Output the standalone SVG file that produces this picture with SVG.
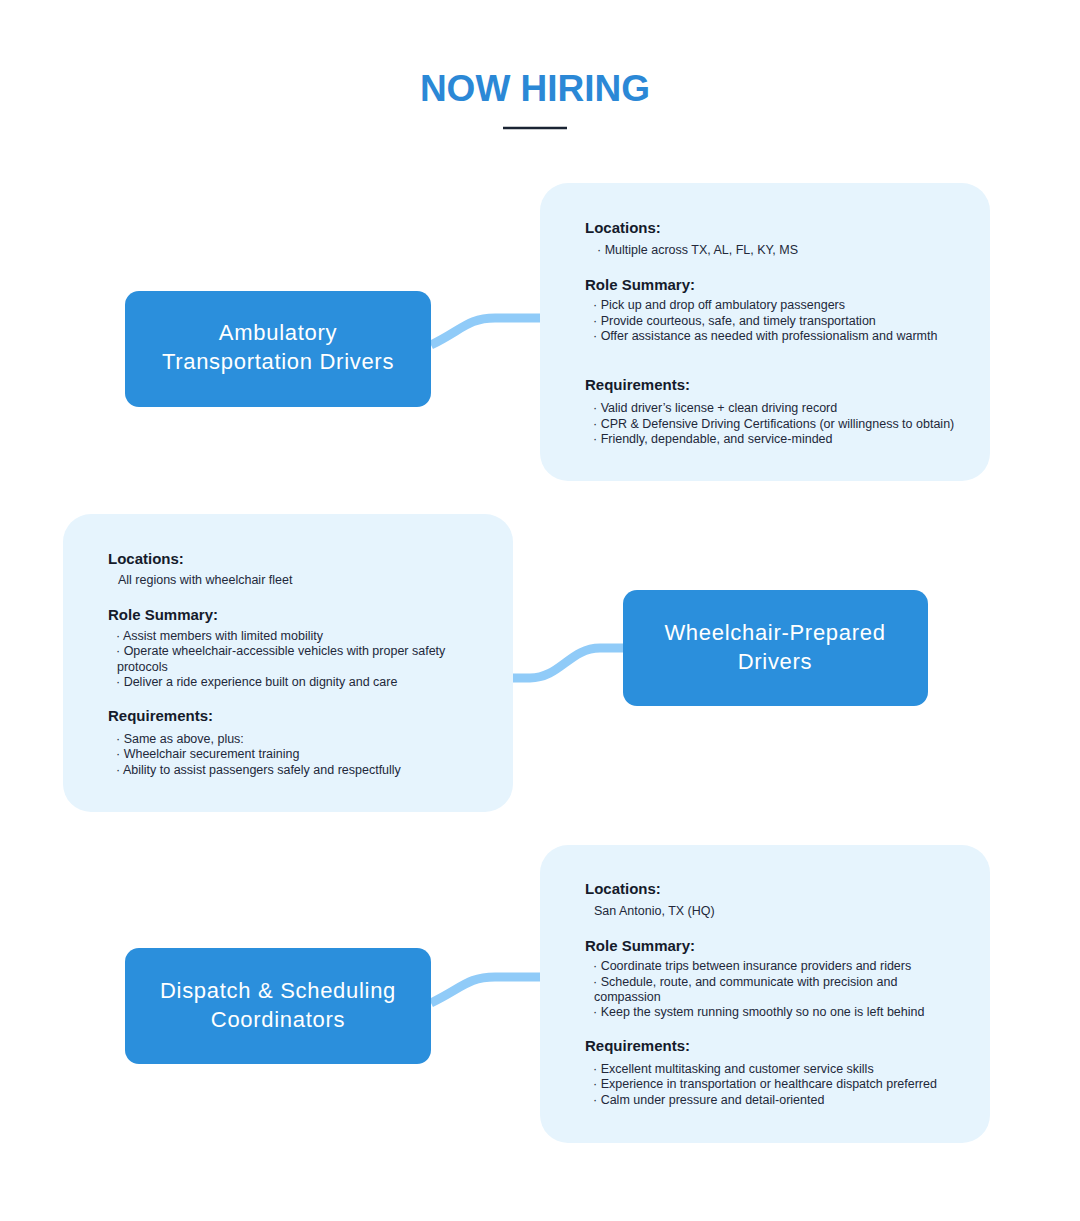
<svg xmlns="http://www.w3.org/2000/svg" width="1080" height="1221" viewBox="0 0 1080 1221">
<style>
.title{font-family:"Liberation Sans",Arial,sans-serif;font-size:37px;font-weight:700;fill:#2b88d6;text-anchor:middle}
.node rect{fill:#2b8fdc}
.node text{font-family:"Liberation Sans",Arial,sans-serif;font-size:22px;letter-spacing:0.7px;fill:#ffffff;text-anchor:middle}
.card rect{fill:#e6f4fd}
.h{font-family:"Liberation Sans",Arial,sans-serif;font-size:15px;font-weight:700;fill:#151b2b}
.b{font-family:"Liberation Sans",Arial,sans-serif;font-size:12.5px;fill:#22283a}
.conn{fill:none;stroke:#90cbf8;stroke-width:9}
</style>
<rect width="1080" height="1221" fill="#ffffff"/>
<text class="title" x="535" y="101">NOW HIRING</text>
<line x1="503" y1="128" x2="567" y2="128" stroke="#1a2433" stroke-width="2.5"/>

<g id="connectors">
<path class="conn" d="M431,345 C462,330 468,318 495,318 L541,318"/>
<path class="conn" d="M512,678 L530,678 C560,678 570,648 600,648 L624,648"/>
<path class="conn" d="M431,1003 C462,988 468,977 495,977 L541,977"/>
</g>

<g id="card-ambulatory" class="card">
<rect x="540" y="183" width="450" height="298" rx="28"/>
<text class="h" x="585" y="233">Locations:</text>
<text class="b" x="597" y="254">· Multiple across TX, AL, FL, KY, MS</text>
<text class="h" x="585" y="290">Role Summary:</text>
<text class="b" x="593" y="309">· Pick up and drop off ambulatory passengers</text>
<text class="b" x="593" y="325">· Provide courteous, safe, and timely transportation</text>
<text class="b" x="593" y="340">· Offer assistance as needed with professionalism and warmth</text>
<text class="h" x="585" y="390">Requirements:</text>
<text class="b" x="593" y="412">· Valid driver’s license + clean driving record</text>
<text class="b" x="593" y="428">· CPR &amp; Defensive Driving Certifications (or willingness to obtain)</text>
<text class="b" x="593" y="443">· Friendly, dependable, and service-minded</text>
</g>

<g id="node-ambulatory" class="node">
<rect x="125" y="291" width="306" height="116" rx="14"/>
<text x="278" y="340">Ambulatory</text>
<text x="278" y="369">Transportation Drivers</text>
</g>

<g id="card-wheelchair" class="card">
<rect x="63" y="514" width="450" height="298" rx="28"/>
<text class="h" x="108" y="564">Locations:</text>
<text class="b" x="118" y="584">All regions with wheelchair fleet</text>
<text class="h" x="108" y="620">Role Summary:</text>
<text class="b" x="116" y="640">· Assist members with limited mobility</text>
<text class="b" x="116" y="655">· Operate wheelchair-accessible vehicles with proper safety</text>
<text class="b" x="117" y="671">protocols</text>
<text class="b" x="116" y="686">· Deliver a ride experience built on dignity and care</text>
<text class="h" x="108" y="721">Requirements:</text>
<text class="b" x="116" y="743">· Same as above, plus:</text>
<text class="b" x="116" y="758">· Wheelchair securement training</text>
<text class="b" x="116" y="774">· Ability to assist passengers safely and respectfully</text>
</g>

<g id="node-wheelchair" class="node">
<rect x="623" y="590" width="305" height="116" rx="14"/>
<text x="775" y="640">Wheelchair-Prepared</text>
<text x="775" y="669">Drivers</text>
</g>

<g id="card-dispatch" class="card">
<rect x="540" y="845" width="450" height="298" rx="28"/>
<text class="h" x="585" y="894">Locations:</text>
<text class="b" x="594" y="915">San Antonio, TX (HQ)</text>
<text class="h" x="585" y="951">Role Summary:</text>
<text class="b" x="593" y="970">· Coordinate trips between insurance providers and riders</text>
<text class="b" x="593" y="986">· Schedule, route, and communicate with precision and</text>
<text class="b" x="594" y="1001">compassion</text>
<text class="b" x="593" y="1016">· Keep the system running smoothly so no one is left behind</text>
<text class="h" x="585" y="1051">Requirements:</text>
<text class="b" x="593" y="1073">· Excellent multitasking and customer service skills</text>
<text class="b" x="593" y="1088">· Experience in transportation or healthcare dispatch preferred</text>
<text class="b" x="593" y="1104">· Calm under pressure and detail-oriented</text>
</g>

<g id="node-dispatch" class="node">
<rect x="125" y="948" width="306" height="116" rx="14"/>
<text x="278" y="998">Dispatch &amp; Scheduling</text>
<text x="278" y="1027">Coordinators</text>
</g>
</svg>
